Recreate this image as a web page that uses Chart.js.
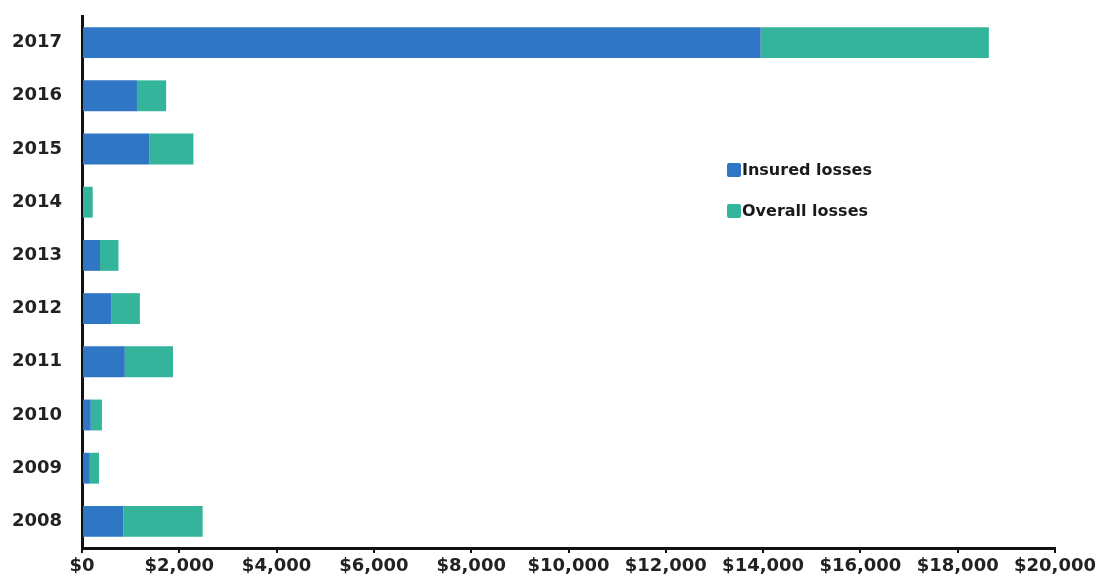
<!DOCTYPE html>
<html>
<head>
<meta charset="utf-8">
<script src="https://cdn.jsdelivr.net/npm/chart.js@4.4.1/dist/chart.umd.min.js"></script>
<style>
  html, body { margin: 0; padding: 0; background: #fff; }
  #wrap { width: 1100px; height: 588px; }
</style>
</head>
<body>
<div id="wrap"><canvas id="chart" width="1100" height="588"></canvas></div>
<script>
const years = ["2017","2016","2015","2014","2013","2012","2011","2010","2009","2008"];
const insuredLosses = [13950, 1130, 1380, 0, 370, 600, 880, 180, 160, 850];
const overallLosses = [4690, 600, 910, 220, 380, 590, 990, 230, 190, 1630];
const xTicks = [0, 2000, 4000, 6000, 8000, 10000, 12000, 14000, 16000, 18000, 20000];

const blue = "#2f77c5";
const green = "#33b49b";
const font = { family: "'DejaVu Sans', sans-serif", size: 18, weight: "bold" };

// legend sits inside the plot, to the right of the small bars
const legendBox = {
  id: "legendBox",
  afterDraw(chart) {
    const ctx = chart.ctx;
    const items = [["Insured losses", blue], ["Overall losses", green]];
    ctx.save();
    ctx.font = "bold 16px 'DejaVu Sans', sans-serif";
    ctx.textBaseline = "middle";
    items.forEach((it, i) => {
      const y = 170 + i * 41;
      ctx.fillStyle = it[1];
      ctx.beginPath();
      ctx.roundRect(727, y - 7, 14, 14, 2);
      ctx.fill();
      ctx.fillStyle = "#1a1a1a";
      ctx.fillText(it[0], 742, y + 1);
    });
    ctx.restore();
  }
};

new Chart(document.getElementById("chart"), {
  type: "bar",
  data: {
    labels: years,
    datasets: [
      { label: "Insured losses", data: insuredLosses, backgroundColor: blue, borderWidth: 0,
        barPercentage: 0.58, categoryPercentage: 1 },
      { label: "Overall losses", data: overallLosses, backgroundColor: green, borderWidth: 0,
        barPercentage: 0.58, categoryPercentage: 1 }
    ]
  },
  options: {
    indexAxis: "y",
    responsive: false,
    animation: false,
    layout: { padding: { top: 16, right: 45, left: 0, bottom: 0 } },
    plugins: { legend: { display: false }, tooltip: { enabled: false } },
    scales: {
      x: {
        stacked: true,
        min: 0, max: 20000,
        afterBuildTicks: s => { s.ticks = xTicks.map(v => ({ value: v })); },
        afterFit: s => { s.height = 40; },
        grid: { display: true, drawOnChartArea: false, drawTicks: true, tickLength: 5, color: "#111", lineWidth: 2 },
        border: { display: true, color: "#111", width: 3 },
        ticks: {
          color: "#222", font: font, padding: 3, maxRotation: 0, autoSkip: false,
          callback: v => "$" + Number(v).toLocaleString("en-US")
        }
      },
      y: {
        stacked: true,
        afterFit: s => { s.width = 82; s.paddingTop = 0; s.paddingBottom = 0; },
        grid: { display: false },
        border: { display: true, color: "#111", width: 3 },
        ticks: { color: "#222", font: font, padding: 12 }
      }
    }
  },
  plugins: [legendBox]
});
</script>
</body>
</html>
